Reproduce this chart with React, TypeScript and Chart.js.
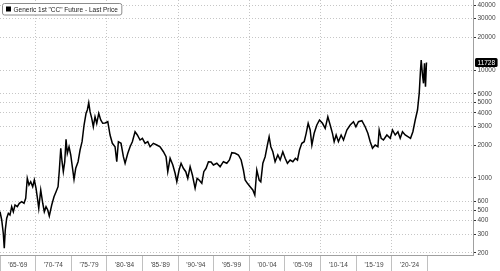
import React, { useEffect, useRef } from 'react';
import { Chart, registerables } from 'chart.js';

Chart.register(...registerables);

const seriesLabel = 'Generic 1st "CC" Future - Last Price';
const lastPrice = 11728;

const years = [
  1965.0, 1965.24, 1965.46, 1965.6, 1965.74, 1965.94, 1966.17, 1966.4, 1966.64, 1966.87,
  1967.11, 1967.43, 1967.71, 1968.05, 1968.37, 1968.61, 1968.83, 1969.07, 1969.31, 1969.59,
  1969.82, 1970.06, 1970.29, 1970.44, 1970.72, 1971.0, 1971.22, 1971.46, 1971.7, 1971.92,
  1972.26, 1972.58, 1972.87, 1973.15, 1973.33, 1973.53, 1973.71, 1973.89, 1974.09, 1974.27,
  1974.45, 1974.69, 1974.93, 1975.15, 1975.39, 1975.63, 1975.96, 1976.24, 1976.52, 1976.8,
  1977.08, 1977.26, 1977.46, 1977.64, 1977.88, 1978.1, 1978.34, 1978.58, 1978.86, 1979.14,
  1979.42, 1979.75, 1980.13, 1980.45, 1980.77, 1981.15, 1981.39, 1981.62, 1981.99, 1982.32,
  1982.56, 1982.94, 1983.26, 1983.58, 1983.96, 1984.28, 1984.66, 1984.99, 1985.37, 1985.74,
  1986.07, 1986.53, 1987.01, 1987.47, 1987.94, 1988.31, 1988.55, 1988.88, 1989.26, 1989.58,
  1989.82, 1990.14, 1990.42, 1990.74, 1991.08, 1991.36, 1991.69, 1992.01, 1992.39, 1992.67,
  1992.95, 1993.33, 1993.61, 1993.93, 1994.26, 1994.63, 1994.96, 1995.44, 1995.9, 1996.36,
  1996.84, 1997.21, 1997.54, 1998.01, 1998.47, 1998.85, 1999.17, 1999.41, 1999.73, 2000.11,
  2000.49, 2000.77, 2001.05, 2001.38, 2001.61, 2001.9, 2002.22, 2002.54, 2002.78, 2003.02,
  2003.3, 2003.62, 2004.0, 2004.33, 2004.7, 2005.03, 2005.35, 2005.73, 2006.11, 2006.47,
  2006.76, 2007.04, 2007.37, 2007.7, 2007.98, 2008.26, 2008.54, 2008.78, 2009.1, 2009.48,
  2009.85, 2010.27, 2010.65, 2011.02, 2011.35, 2011.67, 2011.91, 2012.19, 2012.51, 2012.89,
  2013.22, 2013.69, 2014.16, 2014.62, 2014.96, 2015.32, 2015.8, 2016.26, 2016.64, 2016.97,
  2017.29, 2017.67, 2018.05, 2018.23, 2018.51, 2018.83, 2019.31, 2019.78, 2020.1, 2020.48,
  2020.86, 2021.18, 2021.5, 2021.88, 2022.26, 2022.63, 2022.96, 2023.29, 2023.61, 2023.85,
  2024.03, 2024.13, 2024.31, 2024.45, 2024.59, 2024.73, 2024.87,
];

const prices = [
  483, 405, 305, 221, 327, 420, 467, 450, 538, 483,
  558, 538, 579, 599, 579, 644, 987, 856, 918, 825,
  952, 797, 621, 520, 769, 579, 483, 538, 501, 441,
  558, 666, 741, 825, 1179, 1875, 1408, 1137, 1408, 2272,
  1685, 1940, 1625, 1265, 966, 1223, 1408, 1808, 2160, 3085,
  3963, 4252, 4971, 4101, 3561, 2975, 3685, 3200, 3963, 3434,
  3200, 3221, 3311, 2492, 2086, 1940, 1408, 2160, 2086, 1567,
  1361, 1685, 1940, 2160, 2674, 2492, 2239, 2322, 2086, 2160,
  1940, 2086, 2012, 1940, 1743, 1567, 1137, 1514, 1312, 1099,
  918, 1179, 1361, 1223, 1137, 987, 1265, 1060, 797, 987,
  952, 887, 1137, 1223, 1408, 1399, 1312, 1361, 1265, 1408,
  1361, 1460, 1707, 1685, 1625, 1460, 1179, 952, 887, 825,
  769, 691, 1179, 952, 918, 1361, 1567, 2012, 2403, 1940,
  1743, 1408, 1625, 1460, 1743, 1514, 1361, 1460, 1408, 1514,
  1460, 1808, 2086, 2160, 2584, 3200, 2773, 2012, 2584, 3085,
  3434, 3200, 2875, 3685, 3085, 2584, 2160, 2492, 2160, 2492,
  2239, 2773, 3085, 3311, 2975, 3311, 3383, 2975, 2584, 2160,
  1875, 2012, 1940, 2773, 2322, 2239, 2492, 2322, 2773, 2492,
  2674, 2322, 2674, 2492, 2403, 2322, 2674, 3434, 4252, 6076,
  10000, 12380, 8985, 7523, 11540, 7000, 11728,
];

const yTicks = [200, 300, 400, 500, 600, 1000, 2000, 3000, 4000, 5000, 6000, 10000, 20000, 30000, 40000];
const periodStarts = [1965, 1970, 1975, 1980, 1985, 1990, 1995, 2000, 2005, 2010, 2015, 2020, 2025];
const periodLabels = ["'65-'69", "'70-'74", "'75-'79", "'80-'84", "'85-'89", "'90-'94", "'95-'99", "'00-'04", "'05-'09", "'10-'14", "'15-'19", "'20-'24", ''];

const FONT = '"Liberation Sans", Arial, sans-serif';

const overlayPlugin = {
  id: 'overlay',
  afterDraw(chart: any) {
    const ctx = chart.ctx as CanvasRenderingContext2D;
    ctx.save();
    // legend box
    ctx.font = `6.5px ${FONT}`;
    const tw = ctx.measureText(seriesLabel).width;
    const bx = 2.5, by = 3.5, bh = 11.5, bw = tw + 15;
    ctx.beginPath();
    (ctx as any).roundRect(bx, by, bw, bh, 2);
    ctx.fillStyle = '#ffffff';
    ctx.fill();
    ctx.strokeStyle = '#8c8c8c';
    ctx.lineWidth = 1;
    ctx.stroke();
    ctx.fillStyle = '#000000';
    ctx.fillRect(bx + 3.5, by + 3, 5, 5);
    ctx.fillStyle = '#222222';
    ctx.textBaseline = 'middle';
    ctx.textAlign = 'left';
    ctx.fillText(seriesLabel, bx + 11, by + bh / 2 + 0.5);

    // last price tag
    const ys = chart.scales.y;
    const y = ys.getPixelForValue(lastPrice);
    const x0 = chart.chartArea.right + 1;
    ctx.font = `6.5px ${FONT}`;
    const lw = ctx.measureText(String(lastPrice)).width;
    ctx.fillStyle = '#000000';
    ctx.beginPath();
    (ctx as any).roundRect(x0 + 1, y - 4.5, lw + 5, 9, 1.5);
    ctx.fill();
    ctx.fillStyle = '#ffffff';
    ctx.fillText(String(lastPrice), x0 + 3.5, y + 0.5);
    ctx.restore();
  },
};

export default function App() {
  const ref = useRef<HTMLCanvasElement | null>(null);

  useEffect(() => {
    document.body.style.margin = '0';
    const canvas = ref.current;
    if (!canvas) return;
    const data = years.map((x, i) => ({ x, y: prices[i] }));
    const chart = new Chart(canvas, {
      type: 'line',
      data: {
        datasets: [
          {
            label: seriesLabel,
            data,
            borderColor: '#000000',
            backgroundColor: '#000000',
            borderWidth: 1.5,
            pointRadius: 0,
            tension: 0,
          },
        ],
      },
      options: {
        animation: false,
        responsive: false,
        maintainAspectRatio: false,
        layout: { padding: 0 },
        plugins: { legend: { display: false }, tooltip: { enabled: false } },
        scales: {
          x: {
            type: 'linear',
            min: 1965,
            max: 2031.4,
            afterBuildTicks: (scale: any) => {
              scale.ticks = periodStarts.map((v) => ({ value: v }));
            },
            afterFit: (scale: any) => {
              scale.height = 16;
              scale.paddingLeft = 0;
              scale.paddingRight = 0;
            },
            grid: {
              color: (c: any) => {
                const v = c.tick ? c.tick.value : 0;
                return v % 10 === 0 && v > 1965 && v < 2025 ? '#c6c6c6' : 'rgba(0,0,0,0)';
              },
              tickColor: '#c0c0c0',
              tickLength: 16,
              lineWidth: 1,
            },
            border: { display: true, color: '#a0a0a0', dash: [1, 2] },
            ticks: {
              autoSkip: false,
              maxRotation: 0,
              minRotation: 0,
              padding: -10,
              labelOffset: 17.8,
              color: '#444444',
              font: { family: FONT, size: 6.5 },
              callback: (v: any) => {
                const i = periodStarts.indexOf(Number(v));
                return i >= 0 ? periodLabels[i] : '';
              },
            },
          },
          y: {
            type: 'logarithmic',
            position: 'right',
            min: 191.5,
            max: 44700,
            afterBuildTicks: (scale: any) => {
              scale.ticks = yTicks.map((v) => ({ value: v }));
            },
            afterFit: (scale: any) => {
              scale.width = 27;
              scale.paddingTop = 0;
              scale.paddingBottom = 0;
            },
            grid: {
              color: '#c6c6c6',
              tickColor: '#333333',
              tickLength: 3,
              lineWidth: 1,
            },
            border: { display: true, color: '#a0a0a0', dash: [1, 2] },
            ticks: {
              autoSkip: false,
              padding: 1.5,
              color: '#444444',
              font: { family: FONT, size: 6.5 },
              callback: (v: any) => String(v),
            },
          },
        },
      },
      plugins: [overlayPlugin],
    });
    return () => chart.destroy();
  }, []);

  return (
    <div style={{ width: 500, height: 271, background: '#ffffff' }}>
      <canvas ref={ref} width={500} height={271} style={{ display: 'block' }} />
    </div>
  );
}
